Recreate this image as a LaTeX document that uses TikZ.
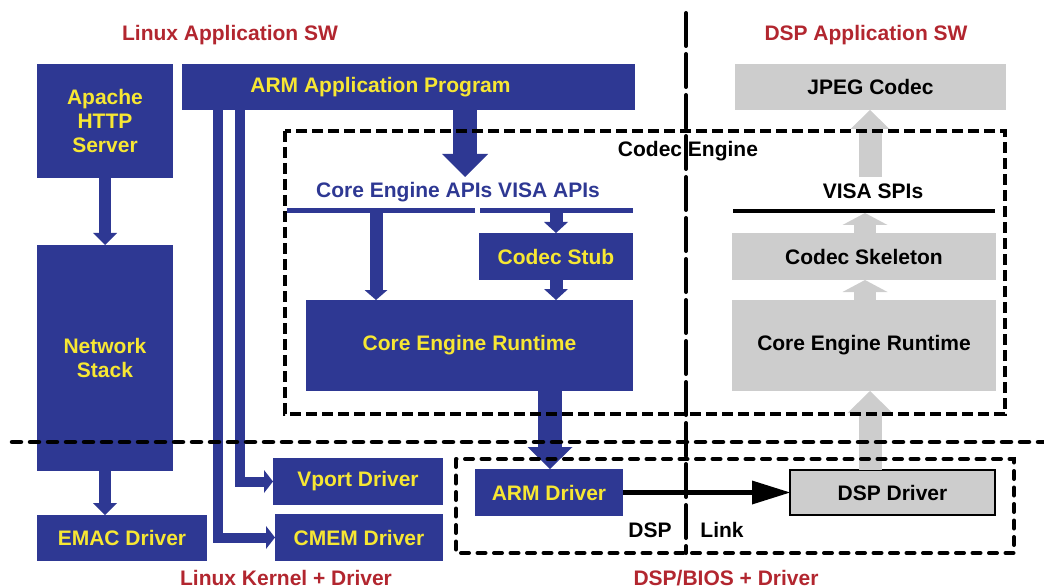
\documentclass[tikz,border=0pt]{standalone}
\usepackage{fontspec}
\setmainfont{Liberation Sans}
\usetikzlibrary{arrows.meta,calc}
\definecolor{ceblue}{HTML}{2E3893}
\definecolor{ceyellow}{HTML}{F7E733}
\definecolor{cegray}{HTML}{CDCDCD}
\definecolor{cered}{HTML}{B2262F}
\tikzset{
  boxbase/.style={inner sep=0pt,outer sep=0pt,anchor=north west,align=center},
  bluebox/.style={boxbase,fill=ceblue,text=ceyellow},
  graybox/.style={boxbase,fill=cegray,text=black},
  redlabel/.style={text=cered,inner sep=0pt},
  plainlabel/.style={inner sep=0pt},
  barrow/.style n args={4}{draw=#1,line width=#2,
     -{Triangle[width=#3,length=#4,line width=0pt]}},
  elbowarrow/.style={draw=ceblue,line width=10pt,line join=miter,
     -{Triangle[width=23pt,length=9pt,line width=0pt]}},
  sepline/.style={line width=4.5pt,line cap=round,dash pattern=on 9pt off 9pt},
  linkline/.style={line width=4pt,line cap=round,dash pattern=on 8pt off 8.5pt},
  enginebox/.style={line width=4pt,dash pattern=on 11pt off 5pt},
  vline/.style={line width=4pt,line cap=round,dash pattern=on 33pt off 8pt},
}
\begin{document}
\begin{tikzpicture}[x=1pt,y=-1pt,font=\fontsize{21}{24}\selectfont\bfseries]
\useasboundingbox (0,0) rectangle (1044,588);

% red headers
\node[redlabel] (linuxapp) at (230,35) {Linux Application SW};
\node[redlabel] (dspapp) at (866,35) {DSP Application SW};
\node[redlabel] (linuxkern) at (286,578) {Linux Kernel + Driver};
\node[redlabel] (dspbios) at (726,578) {DSP/BIOS + Driver};

% left column
\node[bluebox,minimum width=136pt,minimum height=114pt] (apache) at (37,64) {Apache\\HTTP\\Server};
\node[bluebox,minimum width=136pt,minimum height=226pt] (net) at (37,245) {Network\\Stack};
\node[bluebox,minimum width=170pt,minimum height=46pt] (emac) at (37,515) {EMAC Driver};

% ARM application
\node[bluebox,minimum width=453pt,minimum height=46pt] (armapp) at (182,64) {};
\node[plainlabel,text=ceyellow] (armapptext) at ($(armapp.center)+(-28,0)$) {ARM Application Program};

\node[bluebox,minimum width=170pt,minimum height=47pt] (vport) at (273,458) {Vport Driver};
\node[bluebox,minimum width=168pt,minimum height=47pt] (cmem) at (275,514) {CMEM Driver};

% codec engine (ARM side)
\node[plainlabel,text=ceblue] (apis) at (458,192) {Core Engine APIs VISA APIs};
\node[boxbase,fill=ceblue,minimum width=188pt,minimum height=5pt] (line1) at (287,208.5) {};
\node[boxbase,fill=ceblue,minimum width=153pt,minimum height=5pt] (line2) at (480,208.5) {};
\node[bluebox,minimum width=154pt,minimum height=47pt] (stub) at (479,233) {Codec Stub};
\node[bluebox,minimum width=327pt,minimum height=91pt] (cer) at (306,300) {Core Engine Runtime};
\node[bluebox,minimum width=148pt,minimum height=47pt] (armdrv) at (475,469) {ARM Driver};

% DSP side
\node[graybox,minimum width=271pt,minimum height=46pt] (jpeg) at (735,64) {JPEG Codec};
\node[plainlabel] (spis) at (873,191) {VISA SPIs};
\node[boxbase,fill=black,minimum width=262pt,minimum height=4pt] (spiline) at (733,209) {};
\node[graybox,minimum width=264pt,minimum height=47pt] (skel) at (732,233) {Codec Skeleton};
\node[graybox,minimum width=264pt,minimum height=91pt] (cer2) at (732,300) {Core Engine Runtime};
\node[graybox,draw=black,line width=2pt,minimum width=205pt,minimum height=45pt] (dspdrv) at (790,470) {DSP Driver};

\node[plainlabel] (enginelabel) at (688,151) {Codec Engine};
\node[plainlabel] (dsplabel) at (650,530) {DSP};
\node[plainlabel] (linklabel) at (722,530) {Link};

% helper coordinates
\coordinate (xarm) at (465,0);
\coordinate (apitip) at (465,177);
\coordinate (x1) at (376,0);
\coordinate (x2) at (556,0);
\coordinate (x3) at (550,0);
\coordinate (xv) at (240,0);
\coordinate (xc) at (218,0);
\coordinate (xg) at (870,0);
\coordinate (xs) at (865,0);
\coordinate (visastart) at (870,177);

% blue connectors
\draw[barrow={ceblue}{12pt}{24pt}{12pt}] (apache.south) -- (net.north);
\draw[barrow={ceblue}{12pt}{24pt}{12pt}] (net.south) -- (net.south |- emac.north);
\draw[barrow={ceblue}{24pt}{46pt}{23pt}] (armapp.south -| xarm) -- (apitip);
\draw[barrow={ceblue}{13pt}{23pt}{10pt}] (line1.south -| x1) -- (cer.north -| x1);
\draw[barrow={ceblue}{13pt}{24pt}{11pt}] (line2.south -| x2) -- (stub.north -| x2);
\draw[barrow={ceblue}{13pt}{24pt}{11pt}] (stub.south -| x2) -- (cer.north -| x2);
\draw[barrow={ceblue}{24pt}{45pt}{22pt}] (cer.south -| x3) -- (armdrv.north -| x3);
\draw[elbowarrow] (armapp.south -| xv) |- (vport.west);
\draw[elbowarrow] (armapp.south -| xc) |- (cmem.west);

% gray connectors
\draw[barrow={cegray}{23pt}{39pt}{19pt}] (visastart) -- (jpeg.south -| xg);
\draw[barrow={cegray}{22pt}{45pt}{12pt}] (skel.north -| xs) -- (spiline.south -| xs);
\draw[barrow={cegray}{22pt}{45pt}{12pt}] (cer2.north -| xs) -- (skel.south -| xs);
\draw[barrow={cegray}{23pt}{45pt}{22pt}] (dspdrv.north -| xg) -- (cer2.south -| xg);

% DSP link arrow
\draw[line width=5pt,-{Triangle[width=24pt,length=38pt,line width=0pt]}] (armdrv.east) -- (dspdrv.west);

% dashed frames and separators
\draw[enginebox] (285,131) rectangle (1005,414);
\draw[linkline] (456,459) rectangle (1014,553);
\draw[sepline] (12,442) -- (1044,442);
\draw[vline] (686,13) -- (686,553);
\end{tikzpicture}
\end{document}
